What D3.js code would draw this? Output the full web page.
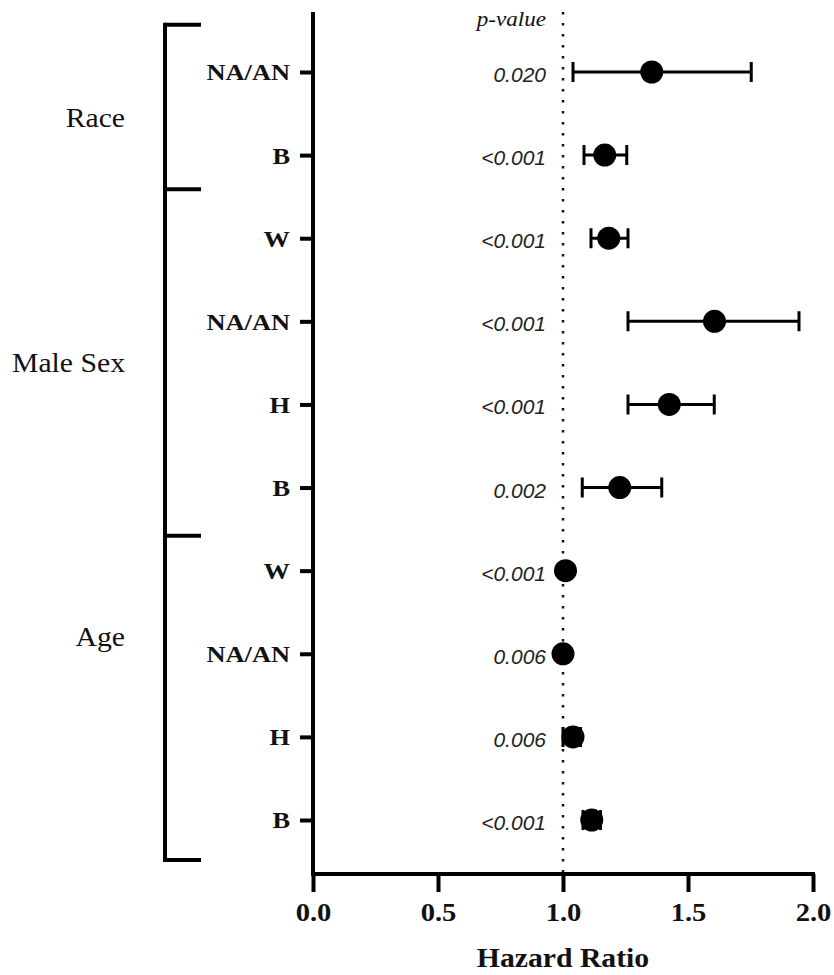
<!DOCTYPE html>
<html>
<head>
<meta charset="utf-8">
<script src="https://cdn.jsdelivr.net/npm/d3@7"></script>
<style>
  html, body { margin: 0; padding: 0; background: #fff; }
  svg { display: block; }
  .serif { font-family: "Liberation Serif", "Times New Roman", serif; fill: #111; }
  .pval { font-family: "Liberation Sans", Arial, sans-serif; font-style: italic; fill: #222; }
</style>
</head>
<body>
<div id="chart"></div>
<script>
// data
const groups = ['Race', 'Male Sex', 'Age'];
const rowGroup = ['Race', 'Race', 'Male Sex', 'Male Sex', 'Male Sex', 'Male Sex', 'Age', 'Age', 'Age', 'Age'];
const rowLabels = ['NA/AN', 'B', 'W', 'NA/AN', 'H', 'B', 'W', 'NA/AN', 'H', 'B'];
const hazardRatio = [1.355, 1.167, 1.183, 1.606, 1.425, 1.227, 1.01, 1.0, 1.04, 1.115];
const ciLow = [1.04, 1.084, 1.112, 1.26, 1.26, 1.077, 1.0, 0.99, 1.0, 1.08];
const ciHigh = [1.753, 1.255, 1.26, 1.944, 1.605, 1.395, 1.02, 1.01, 1.07, 1.15];
const pValues = ['0.020', '<0.001', '<0.001', '<0.001', '<0.001', '0.002', '<0.001', '0.006', '0.006', '<0.001'];
const xTicks = [0, 0.5, 1, 1.5, 2];

const width = 834, height = 975;
const sx = 1.1; // the figure text is a bit stretched horizontally
const groupLabelAt = { 'Race': 0.55, 'Male Sex': 3.5, 'Age': 6.8 }; // row index where each group label sits
const bracketGap = [-0.57, 0.41, 0.58, 0.48]; // bracket ticks, in row steps from the nearest row

const rows = rowLabels.map((d, i) => ({ id: i, label: d, group: rowGroup[i], hr: hazardRatio[i], lo: ciLow[i], hi: ciHigh[i], p: pValues[i] }));

const svg = d3.select('#chart').append('svg')
    .attr('width', width)
    .attr('height', height);

const x = d3.scaleLinear([0, 2], [313, 813]);
const y = d3.scalePoint(rows.map(d => d.id), [72, 820]);
const step = y.step();
const axisTop = 12, axisBottom = 874;

// reference line at HR = 1
svg.append('line')
    .attr('x1', x(1)).attr('x2', x(1))
    .attr('y1', axisTop).attr('y2', axisBottom)
    .attr('stroke', '#111')
    .attr('stroke-width', 2.5)
    .attr('stroke-dasharray', '2.5,8.5');

// y axis: ticks + labels
const yAxis = svg.append('g')
    .attr('transform', `translate(${x(0)},0)`)
    .call(d3.axisLeft(y).tickSize(13).tickPadding(10).tickFormat(i => rowLabels[i]));
yAxis.select('.domain').remove();
yAxis.selectAll('.tick line').attr('stroke', '#000').attr('stroke-width', 4);
yAxis.selectAll('.tick text')
    .attr('class', 'serif')
    .attr('x', -23 / sx)
    .attr('dy', '0.33em')
    .attr('transform', `scale(${sx},1)`)
    .style('font-size', '24px')
    .style('font-weight', 'bold');
svg.append('line')
    .attr('x1', x(0)).attr('x2', x(0))
    .attr('y1', axisTop).attr('y2', axisBottom + 2)
    .attr('stroke', '#000').attr('stroke-width', 4);

// x axis
const xAxis = svg.append('g')
    .attr('transform', `translate(0,${axisBottom})`)
    .call(d3.axisBottom(x).tickValues(xTicks).tickSize(18).tickSizeOuter(0).tickFormat(d3.format('.1f')));
xAxis.select('.domain').attr('stroke', '#000').attr('stroke-width', 4)
    .attr('d', `M${x(0) - 2},0H${x(2) + 2}`);
xAxis.selectAll('.tick line').attr('stroke', '#000').attr('stroke-width', 4);
xAxis.selectAll('.tick text')
    .attr('class', 'serif')
    .attr('y', 47).attr('dy', 0)
    .attr('transform', `scale(${sx},1)`)
    .style('font-size', '26px')
    .style('font-weight', 'bold');

svg.append('text')
    .attr('class', 'serif')
    .attr('transform', `translate(${x(1)},967) scale(${sx},1)`)
    .attr('text-anchor', 'middle')
    .style('font-size', '27px')
    .style('font-weight', 'bold')
    .text('Hazard Ratio');

// group bracket
const bracketX = 165, bracketW = 36;
const bounds = [y(0) + step * bracketGap[0]];
groups.forEach((g, i) => {
    const last = rows.filter(d => d.group === g).slice(-1)[0];
    bounds.push(y(last.id) + step * bracketGap[i + 1]);
});
const bracket = svg.append('g').attr('stroke', '#000').attr('stroke-width', 4);
bracket.append('line')
    .attr('x1', bracketX).attr('x2', bracketX)
    .attr('y1', bounds[0] - 2).attr('y2', bounds[bounds.length - 1] + 2);
bracket.selectAll('line.cap')
    .data(bounds)
    .join('line')
    .classed('cap', true)
    .attr('x1', bracketX).attr('x2', bracketX + bracketW)
    .attr('y1', d => d).attr('y2', d => d);

// group labels
const rowY = d3.scaleLinear([0, rows.length - 1], [y(0), y(rows.length - 1)]);
svg.selectAll('text.group')
    .data(groups)
    .join('text')
    .attr('class', 'serif group')
    .attr('text-anchor', 'end')
    .attr('transform', g => `translate(125,${rowY(groupLabelAt[g]) + 9}) scale(${sx},1)`)
    .style('font-size', '27px')
    .text(g => g);

// p-values
svg.append('text')
    .attr('class', 'serif')
    .attr('text-anchor', 'end')
    .attr('transform', `translate(546,26) scale(${sx},1)`)
    .style('font-size', '21px')
    .style('font-style', 'italic')
    .text('p-value');
svg.selectAll('text.pv')
    .data(rows)
    .join('text')
    .attr('class', 'pval pv')
    .attr('text-anchor', 'end')
    .attr('transform', d => `translate(546,${y(d.id) + 10})`)
    .style('font-size', '21px')
    .text(d => d.p);

// error bars + points
const marks = svg.append('g');
marks.selectAll('line.ci')
    .data(rows)
    .join('line')
    .attr('class', 'ci')
    .attr('x1', d => x(d.lo)).attr('x2', d => x(d.hi))
    .attr('y1', d => y(d.id)).attr('y2', d => y(d.id))
    .attr('stroke', '#000').attr('stroke-width', 3);
marks.selectAll('path.cap')
    .data(rows)
    .join('path')
    .attr('class', 'cap')
    .attr('d', d => `M${x(d.lo)},${y(d.id) - 10}V${y(d.id) + 10}M${x(d.hi)},${y(d.id) - 10}V${y(d.id) + 10}`)
    .attr('stroke', '#000').attr('stroke-width', 3).attr('fill', 'none');
marks.selectAll('circle.dot')
    .data(rows)
    .join('circle')
    .attr('class', 'dot')
    .attr('cx', d => x(d.hr))
    .attr('cy', d => y(d.id))
    .attr('r', 11.5)
    .attr('fill', '#000');
</script>
</body>
</html>
